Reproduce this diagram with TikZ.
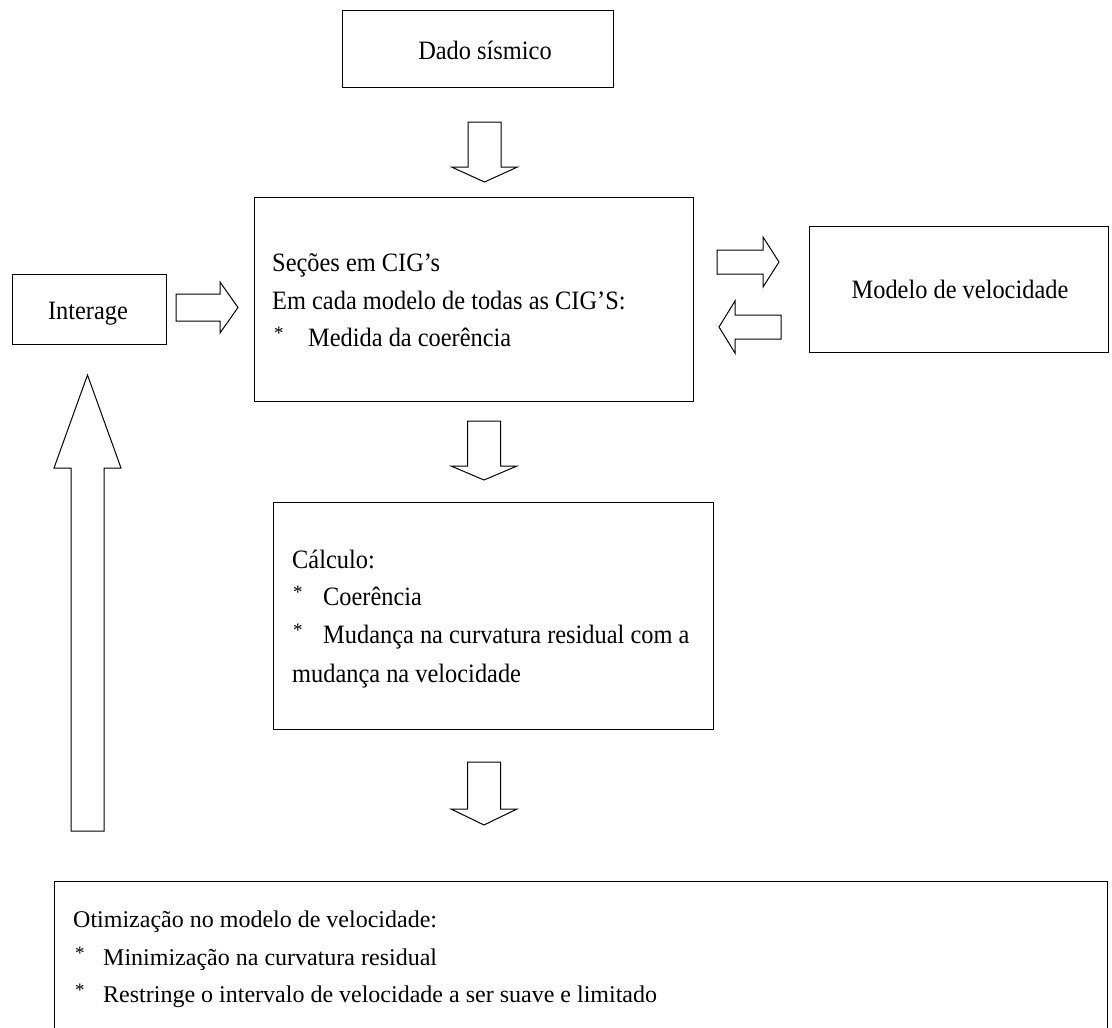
\documentclass[tikz,border=0pt]{standalone}
\usepackage{fontspec}
\setmainfont{Liberation Serif}[FakeStretch=0.92]
\newfontfamily\plainserif{Liberation Serif}
\begin{document}
\begin{tikzpicture}[
  x=1pt, y=-1pt,
  box/.style={draw=black, line width=1.3pt, rectangle, inner sep=0pt, anchor=north west},
  txt/.style={inner sep=0pt, font=\fontsize{26.5}{32}\selectfont},
  smalltxt/.style={inner sep=0pt, font=\plainserif\fontsize{24}{30}\selectfont},
  bullet/.style={inner sep=0pt, font=\plainserif\fontsize{19}{24}\selectfont},
  arrowline/.style={draw=black, line width=1pt, line join=miter},
  pics/blockarrow/.style n args={4}{code={
    % tip at the origin, pointing along +x; #1 length, #2 head length,
    % #3 half shaft width, #4 half head width
    \draw[arrowline] (0,0) -- (-#2,#4) -- (-#2,#3) -- (-#1,#3)
      -- (-#1,-#3) -- (-#2,-#3) -- (-#2,-#4) -- cycle;
  }}
]
\useasboundingbox (0,0) rectangle (1112,1028);

% boxes
\node[box, minimum width=271pt, minimum height=77pt] (dado) at (342,10) {};
\node[box, minimum width=154pt, minimum height=70pt] (interage) at (12,274) {};
\node[box, minimum width=439pt, minimum height=204pt] (secoes) at (254,197) {};
\node[box, minimum width=299pt, minimum height=126pt] (modelo) at (809,226) {};
\node[box, minimum width=440pt, minimum height=227pt] (calculo) at (273,502) {};
\node[box, minimum width=1053pt, minimum height=200pt] (otim) at (54,881) {};

% labels
\node[txt, anchor=base] (tdado) at (485,59) {Dado sísmico};
\node[txt, anchor=base] (tinter) at (88,319) {Interage};
\node[txt, anchor=base] (tmodelo) at (960,298) {Modelo de velocidade};

\node[txt, anchor=base west] (s1) at (272,271) {Seções em CIG’s};
\node[txt, anchor=base west] (s2) at (272,309) {Em cada modelo de todas as CIG’S:};
\node[bullet, anchor=base west] (s3a) at (274,339) {*};
\node[txt, anchor=base west] (s3b) at (308,346) {Medida da coerência};

\node[txt, anchor=base west] (c1) at (292,568) {Cálculo:};
\node[bullet, anchor=base west] (c2a) at (293,598) {*};
\node[txt, anchor=base west] (c2b) at (323,605) {Coerência};
\node[bullet, anchor=base west] (c3a) at (293,636) {*};
\node[txt, anchor=base west] (c3b) at (323,643) {Mudança na curvatura residual com a};
\node[txt, anchor=base west] (c4) at (292,682) {mudança na velocidade};

\node[smalltxt, anchor=base west] (o1) at (73,927) {Otimização no modelo de velocidade:};
\node[bullet, anchor=base west] (o2a) at (75,959) {*};
\node[smalltxt, anchor=base west] (o2b) at (103,965) {Minimização na curvatura residual};
\node[bullet, anchor=base west] (o3a) at (75,996) {*};
\node[smalltxt, anchor=base west] (o3b) at (103,1002) {Restringe o intervalo de velocidade a ser suave e limitado};

% block arrows
\pic[rotate=-90] at (484.5,182) {blockarrow={60}{15}{16.5}{33}};
\pic[rotate=-90] at (484,480) {blockarrow={59}{14}{16.5}{33}};
\pic[rotate=-90] at (484,825) {blockarrow={63}{16}{16.5}{33}};
\pic at (238,307.5) {blockarrow={62}{18}{13.5}{25.5}};
\pic at (779,262) {blockarrow={62}{16}{12}{25}};
\pic[rotate=180] at (719,327) {blockarrow={62}{16}{12}{26}};
\pic[rotate=90] at (87.5,375) {blockarrow={456}{93}{16.5}{33.5}};
\end{tikzpicture}
\end{document}
